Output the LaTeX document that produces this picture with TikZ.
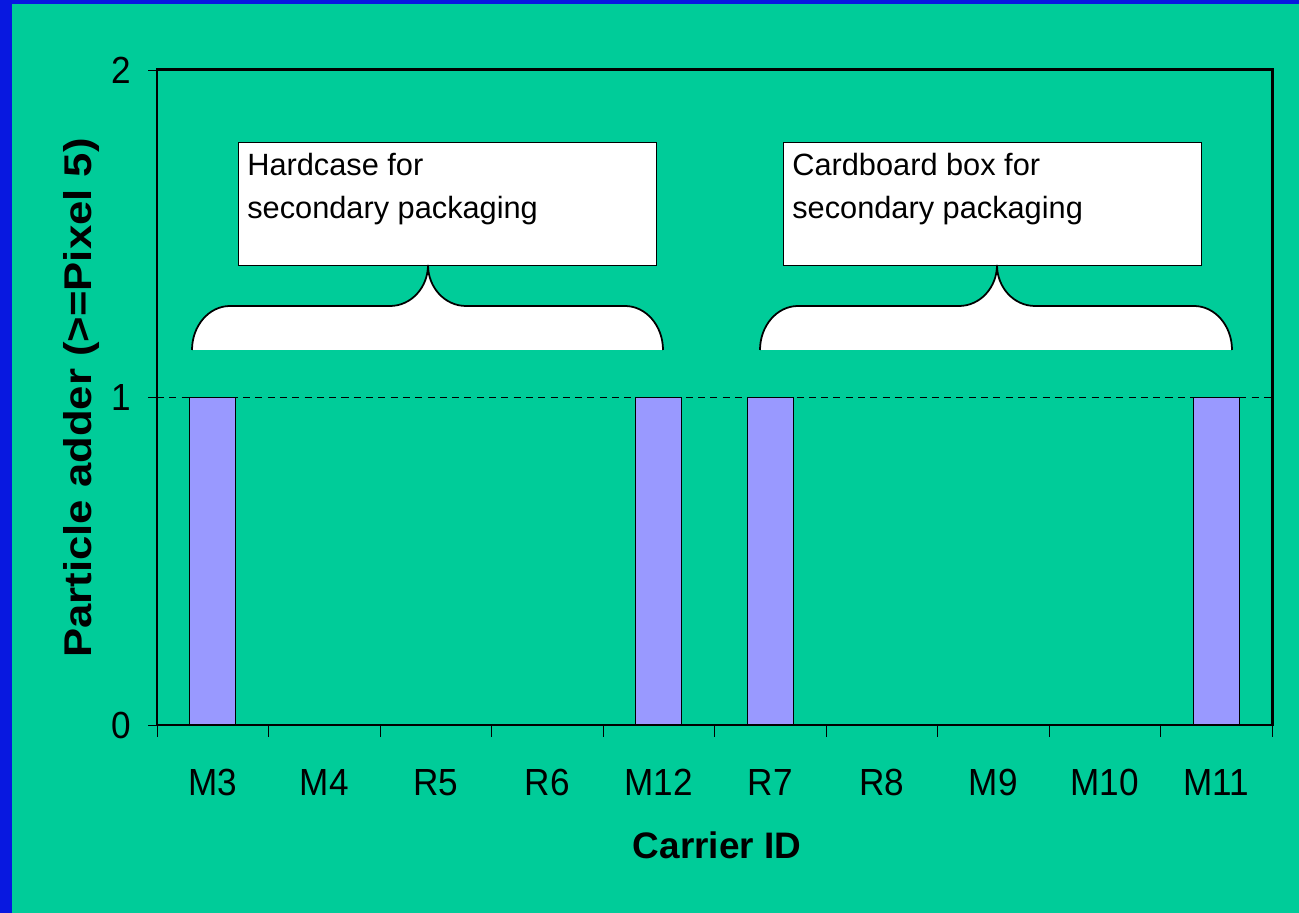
\documentclass[tikz,border=0pt]{standalone}
\usepackage{fontspec}
\setmainfont{Liberation Sans}
\newfontfamily\tickfont[FakeStretch=0.93]{Liberation Sans}
\newfontfamily\ytitlefont[FakeStretch=1.13]{Liberation Sans}
\definecolor{slideblue}{RGB}{8,24,224}
\definecolor{slidegreen}{RGB}{0,204,153}
\definecolor{barblue}{RGB}{153,153,255}

\tikzset{
  ticklabel/.style = {font=\tickfont\fontsize{21.5}{25}\selectfont, inner sep=0pt},
  axistitle/.style = {font=\fontsize{21}{25}\selectfont\bfseries, inner sep=0pt},
  barstyle/.style = {draw=black, line width=0.6pt, fill=barblue},
  notebox/.style = {draw=black, line width=0.8pt, fill=white,
                    minimum width=8.36cm, minimum height=2.46cm, inner sep=0pt},
  notetext/.style = {font=\fontsize{17.5}{24.5}\selectfont, align=left, inner sep=0pt},
  bracestyle/.style = {draw=black, line width=1pt, fill=white}
}

% left end, tip, right end of one curly brace
\newcommand{\packbrace}[3]{%
  \draw[bracestyle] (#1,563)
    arc[start angle=180, end angle=90, x radius=38, y radius=44] -- (#2-38,607)
    arc[start angle=270, end angle=360, x radius=38, y radius=41]
    arc[start angle=180, end angle=270, x radius=38, y radius=41] -- (#3-38,607)
    arc[start angle=90, end angle=0, x radius=38, y radius=44];
}

\begin{document}
\begin{tikzpicture}[x=0.02cm, y=0.02cm]
  % slide background
  \fill[slideblue] (0,0) rectangle (1299,913);
  \fill[slidegreen] (12,0) rectangle (1299,909);

  % gridline at 1
  \draw[line width=0.5pt, dash pattern=on 4pt off 3pt] (157,515.5) -- (1272,515.5);

  % bars
  \foreach \i in {1,5,6,10}
    \draw[barstyle] ({157+(\i-0.5)*111.5-23},188) rectangle ({157+(\i-0.5)*111.5+23},515.5);

  % plot frame and ticks
  \draw[line width=1.7pt] (157,188) rectangle (1272,843);
  \foreach \v in {0,1,2} {
    \draw[line width=0.5pt] (148,{188+\v*327.5}) -- (157,{188+\v*327.5});
    \node[ticklabel, anchor=base east] (ylab\v) at (131,{188+\v*327.5-13.5}) {\v};
  }
  \foreach \i in {0,...,10}
    \draw[line width=0.5pt] ({157+\i*111.5},188) -- ({157+\i*111.5},176);
  \foreach \lab [count=\i] in {M3,M4,R5,R6,M12,R7,R8,M9,M10,M11}
    \node[ticklabel, anchor=base] (xlab\i) at ({157+(\i-0.5)*111.5},117) {\lab};

  % axis titles
  \node[axistitle, font=\ytitlefont\fontsize{22}{26}\selectfont\bfseries, rotate=90] (ytitle)
    at (82,515) {Particle adder (>=Pixel 5)};
  \node[axistitle] (xtitle) at (717,68) {Carrier ID};

  % notes with braces
  \node[notebox, anchor=north west] (hardbox) at (238,771) {};
  \node[notetext, anchor=north west] (hardtext) at ([xshift=0.18cm,yshift=-0.22cm]hardbox.north west)
    {Hardcase for\\secondary packaging};
  \node[notebox, anchor=north west] (cardbox) at (783,771) {};
  \node[notetext, anchor=north west] (cardtext) at ([xshift=0.18cm,yshift=-0.22cm]cardbox.north west)
    {Cardboard box for\\secondary packaging};
  \packbrace{192}{428}{663}
  \packbrace{760}{997}{1232}
\end{tikzpicture}
\end{document}
